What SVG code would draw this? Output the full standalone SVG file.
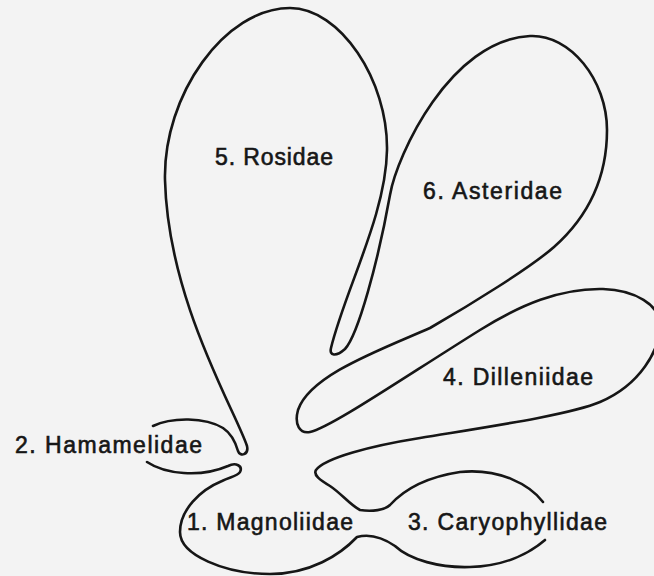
<svg xmlns="http://www.w3.org/2000/svg" width="654" height="576" viewBox="0 0 654 576">
<style>
.ol{fill:none;stroke:#161616;stroke-width:2.6;stroke-linecap:round;stroke-linejoin:round}
.lb{font-family:"Liberation Sans",Arial,Helvetica,sans-serif;font-size:23px;fill:#161616;stroke:#161616;stroke-width:0.6}
</style>
<rect width="654" height="576" fill="#f3f3f3"/>
<g id="outline">
<path class="ol" d="M153,426 C172,417 205,417 223,428 C232,434 236,444 238,451 C240,457 249,455 247,446 C235,410 168,300 165,180 C163,95 225,8 290,8 C340,8 388,80 387,150 C386,215 345,290 331,348 C329,356 336,357 345,349 C358,335 378,262 390,195 C397,155 450,40 530,36 C570,34 607,80 607,130 C607,175 590,215 554,247 C530,268 470,305 430,328 C380,350 310,375 298,410 C294,425 300,434 310,432 C330,428 400,380 480,330 C520,305 560,288 603,289 C635,290 660,305 660,325 C660,350 640,385 600,402 C570,415 480,428 420,438 C370,446 325,458 316,470 C313,475 320,480 330,486 C342,494 350,505 360,510 C372,512 385,510 390,505 C400,494 420,478 460,472 C500,468 530,485 543,502"/>
<path class="ol" d="M147,462 C165,474 200,478 228,466 C236,462 243,466 240,472 C238,476 230,477 222,481 C200,490 180,510 180,532 C180,555 225,574 270,574 C310,574 340,555 357,537 C368,534 382,537 395,546 C410,560 440,568 470,567 C505,566 530,553 545,540"/>
</g>
<g id="magnoliidae"><text class="lb" x="187" y="530" textLength="166" lengthAdjust="spacing">1. Magnoliidae</text></g>
<g id="hamamelidae"><text class="lb" x="15" y="453" textLength="187" lengthAdjust="spacing">2. Hamamelidae</text></g>
<g id="caryophyllidae"><text class="lb" x="408" y="530" textLength="199" lengthAdjust="spacing">3. Caryophyllidae</text></g>
<g id="dilleniidae"><text class="lb" x="443" y="385" textLength="150" lengthAdjust="spacing">4. Dilleniidae</text></g>
<g id="rosidae"><text class="lb" x="215" y="165" textLength="118" lengthAdjust="spacing">5. Rosidae</text></g>
<g id="asteridae"><text class="lb" x="423" y="199" textLength="139" lengthAdjust="spacing">6. Asteridae</text></g>
</svg>
